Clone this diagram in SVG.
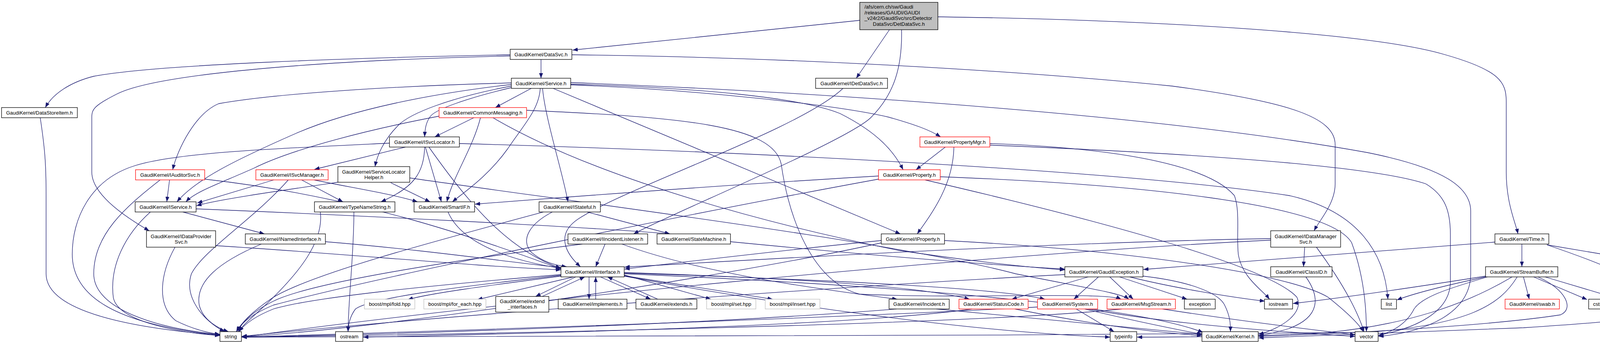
<svg xmlns="http://www.w3.org/2000/svg" width="4447" height="877" viewBox="0 0 4447 877">
<defs>
<marker id="a" markerUnits="userSpaceOnUse" markerWidth="14" markerHeight="10" refX="13" refY="5" orient="auto"><path d="M0,0 L13,5 L0,10 z" fill="#191970"/></marker>
</defs>
<style>
.n rect{fill:#ffffff;stroke:#000000;stroke-width:1.3}
.n.r rect{stroke:#ff0000}
.n.g rect{stroke:#bfbfbf}
.n.root rect{fill:#bfbfbf}
text{font-family:"Liberation Sans",Arial,sans-serif;font-size:13px;text-anchor:middle;fill:#000000}
text.l{text-anchor:start}
#edges path{fill:none;stroke:#191970;stroke-width:1.3;marker-end:url(#a)}
</style>
<rect width="4447" height="877" fill="#ffffff"/>
<g id="edges">
<path d="M2201,52 L1466,128"/>
<path d="M2277,76 L2192,200"/>
<path d="M2308,76 C2310,170 2290,240 2230,300 C2170,360 1720,545 1622,598"/>
<path d="M2401,43 C2900,50 3500,80 3700,140 C3840,180 3856,210 3856,260 L3856,440 C3856,520 3880,570 3886,598"/>
<path d="M1306,140 C900,148 400,165 240,195 C180,210 135,240 116,275"/>
<path d="M1306,143 C800,155 400,190 300,240 C240,270 235,280 235,300 L235,440 C235,500 330,560 382,590"/>
<path d="M1385,152 L1385,200"/>
<path d="M1464,140 C1900,145 2500,170 3000,220 C3300,260 3418,300 3418,370 L3418,470 C3418,520 3380,560 3364,590"/>
<path d="M2158,226 C2050,330 1600,480 1480,560 C1420,600 1450,650 1486,682"/>
<path d="M1309,212 C1000,220 700,240 560,265 C500,290 455,380 442,434"/>
<path d="M1309,216 C1100,240 900,280 760,340 C600,410 500,460 453,516"/>
<path d="M1309,220 C1150,250 1050,290 1020,320 C980,360 965,400 960,426"/>
<path d="M1309,224 C1200,250 1110,280 1100,300 C1090,315 1088,330 1087,350"/>
<path d="M1360,226 L1268,275"/>
<path d="M1383,226 C1380,280 1340,320 1300,380 C1250,450 1190,490 1158,516"/>
<path d="M1389,226 C1395,300 1440,440 1454,516"/>
<path d="M1416,226 C1700,345 2000,470 2305,598"/>
<path d="M1461,215 C1800,225 2050,250 2150,290 C2250,340 2290,390 2312,434"/>
<path d="M1461,217 C1800,230 2150,270 2277,300 C2340,318 2380,332 2408,350"/>
<path d="M1461,211 C2200,240 3000,300 3500,390 C3700,430 3765,480 3765,540 L3765,700 C3765,800 3650,850 3529,860"/>
<path d="M1124,297 C950,330 750,380 650,430 C560,470 500,490 476,516"/>
<path d="M1213,301 L1113,350"/>
<path d="M1230,301 C1210,380 1160,450 1144,516"/>
<path d="M1262,301 C1500,440 1900,560 2300,640 C2500,670 2650,685 2726,690"/>
<path d="M1348,282 C1750,300 1980,320 2000,420 C2020,560 2080,720 2200,752 C2450,765 2830,745 2870,765"/>
<path d="M1038,376 L805,433"/>
<path d="M997,366 C700,380 450,390 344,424 C230,460 185,560 185,650 C185,760 300,830 563,857"/>
<path d="M1087,376 C1086,440 1060,480 975,516"/>
<path d="M1089,376 L1130,516"/>
<path d="M1098,376 C1200,520 1300,640 1436,686"/>
<path d="M1176,367 C2000,390 2900,440 3300,500 C3480,540 3545,650 3553,765"/>
<path d="M701,460 L505,519"/>
<path d="M738,460 C650,560 520,640 490,700 C470,760 520,820 575,848"/>
<path d="M772,460 L878,516"/>
<path d="M804,460 C900,480 1000,495 1069,516"/>
<path d="M434,460 L427,516"/>
<path d="M410,460 C320,530 240,600 240,700 C240,790 400,840 563,855"/>
<path d="M524,458 C900,500 1200,600 1436,688"/>
<path d="M865,466 C700,490 560,510 503,526"/>
<path d="M1000,467 L1101,516"/>
<path d="M1049,455 C1500,520 2300,620 2600,700 C2800,740 2870,750 2890,765"/>
<path d="M468,542 L677,598"/>
<path d="M385,542 C320,600 280,680 290,760 C300,820 450,850 563,858"/>
<path d="M502,534 C900,550 1500,580 1715,598"/>
<path d="M820,542 C830,620 760,700 700,760 C650,810 620,830 612,848"/>
<path d="M906,542 C906,650 892,760 891,848"/>
<path d="M1147,542 C1180,620 1300,665 1436,686"/>
<path d="M1414,542 C1360,570 1330,610 1360,645 C1390,670 1420,678 1451,682"/>
<path d="M1503,542 L1715,598"/>
<path d="M1391,542 C1100,620 800,700 700,760 C640,800 615,830 606,848"/>
<path d="M448,632 C410,700 400,780 450,820 C500,845 540,852 563,855"/>
<path d="M552,628 C900,650 1200,680 1436,690"/>
<path d="M833,618 C1100,640 1300,670 1436,684"/>
<path d="M669,624 C560,670 500,720 510,780 C520,820 560,840 585,848"/>
<path d="M1549,624 L1525,682"/>
<path d="M1592,624 C1800,700 2100,740 2297,765"/>
<path d="M1491,624 C1200,660 800,720 700,770 C640,800 615,830 610,848"/>
<path d="M1870,618 C2200,650 2500,675 2726,688"/>
<path d="M2256,615 C2000,640 1750,670 1599,688"/>
<path d="M2256,621 C1900,700 1000,840 619,861"/>
<path d="M2418,615 C2900,640 3300,700 3400,760 C3450,800 3480,830 3490,848"/>
<path d="M3340,632 L3337,682"/>
<path d="M3370,632 C3420,700 3470,780 3492,848"/>
<path d="M3253,610 C2700,620 2000,660 1599,683"/>
<path d="M3253,614 C2500,650 1200,780 619,862"/>
<path d="M3343,708 C3380,760 3380,810 3300,840 C3260,852 3240,856 3222,858"/>
<path d="M3827,619 L2927,689"/>
<path d="M3896,624 L3896,682"/>
<path d="M3960,626 L4299,683"/>
<path d="M3960,626 C4120,680 4270,740 4245,795 C4230,815 4100,825 3900,838 C3600,850 3350,860 3222,864"/>
<path d="M3803,708 C3700,730 3620,750 3576,767"/>
<path d="M3803,706 C3650,730 3450,760 3310,776"/>
<path d="M3808,708 C3700,740 3640,760 3620,790 C3600,830 3560,850 3529,858"/>
<path d="M3871,708 C3750,780 3600,830 3400,850 C3200,862 3000,862 2911,862"/>
<path d="M3884,708 C3840,780 3760,830 3500,850 C2500,860 1200,860 619,862"/>
<path d="M3900,708 L3915,765"/>
<path d="M3926,708 L4063,766"/>
<path d="M3955,708 L4150,766"/>
<path d="M3937,708 C4010,740 4030,790 3995,805 C3800,835 3400,855 3222,860"/>
<path d="M2812,708 L2749,765"/>
<path d="M2841,708 L2901,765"/>
<path d="M2866,708 L3039,765"/>
<path d="M2892,708 C3000,735 3150,760 3238,770"/>
<path d="M2926,706 C3050,720 3120,750 3135,780 C3150,810 3150,830 3150,848"/>
<path d="M2786,708 L2590,765"/>
<path d="M2726,702 C2000,740 1000,820 619,860"/>
<path d="M2755,790 L2852,848"/>
<path d="M2777,790 C2900,820 3000,840 3078,855"/>
<path d="M2786,790 C3000,830 3300,850 3469,860"/>
<path d="M2656,785 C2000,820 1000,850 619,862"/>
<path d="M2872,790 C2500,830 1200,855 619,862"/>
<path d="M2976,790 C3200,825 3380,845 3469,856"/>
<path d="M2489,790 C2200,830 1500,850 930,862"/>
<path d="M2598,790 C2800,830 2950,850 3077,858"/>
<path d="M2295,790 C1800,830 1000,855 619,862"/>
<path d="M2397,790 C2700,820 2950,845 3077,855"/>
<path d="M1436,702 C1100,730 800,760 700,790 C650,810 625,830 612,848"/>
<path d="M1436,704 C1200,730 950,760 910,790 C895,810 892,830 891,848"/>
<path d="M1436,706 C1250,730 1100,750 1044,766"/>
<path d="M1468,708 L1222,766"/>
<path d="M1474,708 L1371,758"/>
<path d="M1388,758 L1497,708"/>
<path d="M1508,708 L1508,765"/>
<path d="M1525,765 L1525,708"/>
<path d="M1537,708 L1666,765"/>
<path d="M1684,765 L1555,708"/>
<path d="M1598,703 L1820,765"/>
<path d="M1598,705 L1978,765"/>
<path d="M1598,697 C2000,710 2350,730 2482,765"/>
<path d="M1598,698 C2100,715 2550,735 2675,765"/>
<path d="M1598,700 C2300,730 2900,780 3080,850"/>
<path d="M1598,706 C2000,780 2500,850 2842,862"/>
<path d="M2249,450 C1900,470 1500,500 1216,522"/>
<path d="M2249,458 C1800,540 1000,700 700,780 C640,805 615,830 605,848"/>
<path d="M2368,460 C2800,560 3250,680 3320,760 C3340,800 3280,840 3222,855"/>
<path d="M2407,452 C2900,470 3400,520 3460,620 C3490,700 3498,780 3498,848"/>
<path d="M2420,376 L2345,434"/>
<path d="M2442,376 C2440,470 2390,540 2348,598"/>
<path d="M2534,367 C2900,380 3100,430 3160,500 C3175,540 3165,600 3170,650 C3180,710 3230,740 3250,765"/>
<path d="M2534,371 C3000,390 3500,420 3650,470 C3700,500 3713,540 3713,600 L3713,720 C3713,800 3620,840 3529,857"/>
<path d="M103,301 C115,380 118,420 118,500 L118,700 C118,800 350,840 563,857"/>
</g>
<g id="n-root" class="n root"><rect x="2201" y="6" width="200" height="70"/><text class="l" x="2213" y="22">/afs/cern.ch/sw/Gaudi</text><text class="l" x="2213" y="36.5">/releases/GAUDI/GAUDI</text><text class="l" x="2213" y="51">_v24r2/GaudiSvc/src/Detector</text><text x="2301" y="65.5">DataSvc/DetDataSvc.h</text></g>
<g id="n-DataSvc" class="n"><rect x="1306" y="126" width="158" height="26"/><text x="1385" y="143.5">GaudiKernel/DataSvc.h</text></g>
<g id="n-Service" class="n"><rect x="1309" y="200" width="152" height="26"/><text x="1385" y="217.5">GaudiKernel/Service.h</text></g>
<g id="n-IDetDataSvc" class="n"><rect x="2088" y="200" width="184" height="26"/><text x="2180" y="217.5">GaudiKernel/IDetDataSvc.h</text></g>
<g id="n-DataStoreItem" class="n"><rect x="4" y="275" width="194" height="26"/><text x="101" y="292.5">GaudiKernel/DataStoreItem.h</text></g>
<g id="n-CommonMessaging" class="n r"><rect x="1124" y="275" width="224" height="26"/><text x="1236" y="292.5">GaudiKernel/CommonMessaging.h</text></g>
<g id="n-ISvcLocator" class="n"><rect x="997" y="350" width="179" height="26"/><text x="1086.5" y="367.5">GaudiKernel/ISvcLocator.h</text></g>
<g id="n-PropertyMgr" class="n r"><rect x="2355" y="350" width="179" height="26"/><text x="2444.5" y="367.5">GaudiKernel/PropertyMgr.h</text></g>
<g id="n-IAuditorSvc" class="n r"><rect x="347" y="434" width="177" height="26"/><text x="435.5" y="451.5">GaudiKernel/IAuditorSvc.h</text></g>
<g id="n-ISvcManager" class="n r"><rect x="655" y="434" width="185" height="26"/><text x="747.5" y="451.5">GaudiKernel/ISvcManager.h</text></g>
<g id="n-ServiceLocatorHelper" class="n"><rect x="865" y="426" width="184" height="40"/><text x="957" y="443.5">GaudiKernel/ServiceLocator</text><text x="957" y="457.5">Helper.h</text></g>
<g id="n-Property" class="n r"><rect x="2249" y="434" width="158" height="26"/><text x="2328" y="451.5">GaudiKernel/Property.h</text></g>
<g id="n-IService" class="n"><rect x="346" y="516" width="156" height="26"/><text x="424" y="533.5">GaudiKernel/IService.h</text></g>
<g id="n-TypeNameString" class="n"><rect x="805" y="516" width="206" height="26"/><text x="908" y="533.5">GaudiKernel/TypeNameString.h</text></g>
<g id="n-SmartIF" class="n"><rect x="1060" y="516" width="155" height="26"/><text x="1137.5" y="533.5">GaudiKernel/SmartIF.h</text></g>
<g id="n-IStateful" class="n"><rect x="1380" y="516" width="157" height="26"/><text x="1458.5" y="533.5">GaudiKernel/IStateful.h</text></g>
<g id="n-IDataProviderSvc" class="n"><rect x="375" y="590" width="177" height="42"/><text x="463.5" y="608.5">GaudiKernel/IDataProvider</text><text x="463.5" y="622.5">Svc.h</text></g>
<g id="n-INamedInterface" class="n"><rect x="628" y="598" width="205" height="26"/><text x="730.5" y="615.5">GaudiKernel/INamedInterface.h</text></g>
<g id="n-IIncidentListener" class="n"><rect x="1454" y="598" width="204" height="26"/><text x="1556" y="615.5">GaudiKernel/IIncidentListener.h</text></g>
<g id="n-StateMachine" class="n"><rect x="1682" y="598" width="188" height="26"/><text x="1776" y="615.5">GaudiKernel/StateMachine.h</text></g>
<g id="n-IProperty" class="n"><rect x="2256" y="598" width="162" height="26"/><text x="2337" y="615.5">GaudiKernel/IProperty.h</text></g>
<g id="n-IDataManagerSvc" class="n"><rect x="3253" y="590" width="179" height="42"/><text x="3342.5" y="608.5">GaudiKernel/IDataManager</text><text x="3342.5" y="622.5">Svc.h</text></g>
<g id="n-Time" class="n"><rect x="3827" y="598" width="138" height="26"/><text x="3896" y="615.5">GaudiKernel/Time.h</text></g>
<g id="n-IInterface" class="n"><rect x="1436" y="682" width="162" height="26"/><text x="1517" y="699.5">GaudiKernel/IInterface.h</text></g>
<g id="n-GaudiException" class="n"><rect x="2726" y="682" width="200" height="26"/><text x="2826" y="699.5">GaudiKernel/GaudiException.h</text></g>
<g id="n-ClassID" class="n"><rect x="3253" y="682" width="157" height="26"/><text x="3331.5" y="699.5">GaudiKernel/ClassID.h</text></g>
<g id="n-StreamBuffer" class="n"><rect x="3803" y="682" width="185" height="26"/><text x="3895.5" y="699.5">GaudiKernel/StreamBuffer.h</text></g>
<g id="n-TimeIcpp" class="n"><rect x="4288" y="682" width="155" height="26"/><text x="4365.5" y="699.5">GaudiKernel/Time.icpp</text></g>
<g id="n-fold" class="n g"><rect x="933" y="765" width="129" height="25"/><text x="997.5" y="782">boost/mpl/fold.hpp</text></g>
<g id="n-for_each" class="n g"><rect x="1085" y="765" width="159" height="25"/><text x="1164.5" y="782">boost/mpl/for_each.hpp</text></g>
<g id="n-extend_interfaces" class="n"><rect x="1269" y="758" width="136" height="40"/><text x="1337" y="775">GaudiKernel/extend</text><text x="1337" y="789">_interfaces.h</text></g>
<g id="n-implements" class="n"><rect x="1429" y="765" width="176" height="25"/><text x="1517" y="782">GaudiKernel/implements.h</text></g>
<g id="n-extends" class="n"><rect x="1628" y="765" width="156" height="25"/><text x="1706" y="782">GaudiKernel/extends.h</text></g>
<g id="n-set" class="n g"><rect x="1809" y="765" width="126" height="25"/><text x="1872" y="782">boost/mpl/set.hpp</text></g>
<g id="n-insert" class="n g"><rect x="1959" y="765" width="140" height="25"/><text x="2029" y="782">boost/mpl/insert.hpp</text></g>
<g id="n-Incident" class="n"><rect x="2276" y="765" width="154" height="25"/><text x="2353" y="782">GaudiKernel/Incident.h</text></g>
<g id="n-StatusCode" class="n r"><rect x="2455" y="765" width="177" height="25"/><text x="2543.5" y="782">GaudiKernel/StatusCode.h</text></g>
<g id="n-System" class="n r"><rect x="2656" y="765" width="154" height="25"/><text x="2733" y="782">GaudiKernel/System.h</text></g>
<g id="n-MsgStream" class="n r"><rect x="2834" y="765" width="175" height="25"/><text x="2921.5" y="782">GaudiKernel/MsgStream.h</text></g>
<g id="n-exception" class="n"><rect x="3032" y="765" width="79" height="25"/><text x="3071.5" y="782">exception</text></g>
<g id="n-iostream" class="n"><rect x="3237" y="765" width="72" height="25"/><text x="3273" y="782">iostream</text></g>
<g id="n-list" class="n"><rect x="3536" y="765" width="39" height="25"/><text x="3555.5" y="782">list</text></g>
<g id="n-swab" class="n r"><rect x="3853" y="765" width="139" height="25"/><text x="3922.5" y="782">GaudiKernel/swab.h</text></g>
<g id="n-cstring" class="n"><rect x="4067" y="765" width="61" height="25"/><text x="4097.5" y="782">cstring</text></g>
<g id="n-cstdlib" class="n"><rect x="4153" y="765" width="60" height="25"/><text x="4183" y="782">cstdlib</text></g>
<g id="n-string" class="n"><rect x="563" y="848" width="55" height="25"/><text x="590.5" y="865">string</text></g>
<g id="n-ostream" class="n"><rect x="859" y="848" width="70" height="25"/><text x="894" y="865">ostream</text></g>
<g id="n-typeinfo" class="n"><rect x="2842" y="848" width="68" height="25"/><text x="2876" y="865">typeinfo</text></g>
<g id="n-Kernel" class="n"><rect x="3077" y="848" width="144" height="25"/><text x="3149" y="865">GaudiKernel/Kernel.h</text></g>
<g id="n-vector" class="n"><rect x="3469" y="848" width="59" height="25"/><text x="3498.5" y="865">vector</text></g>
</svg>
